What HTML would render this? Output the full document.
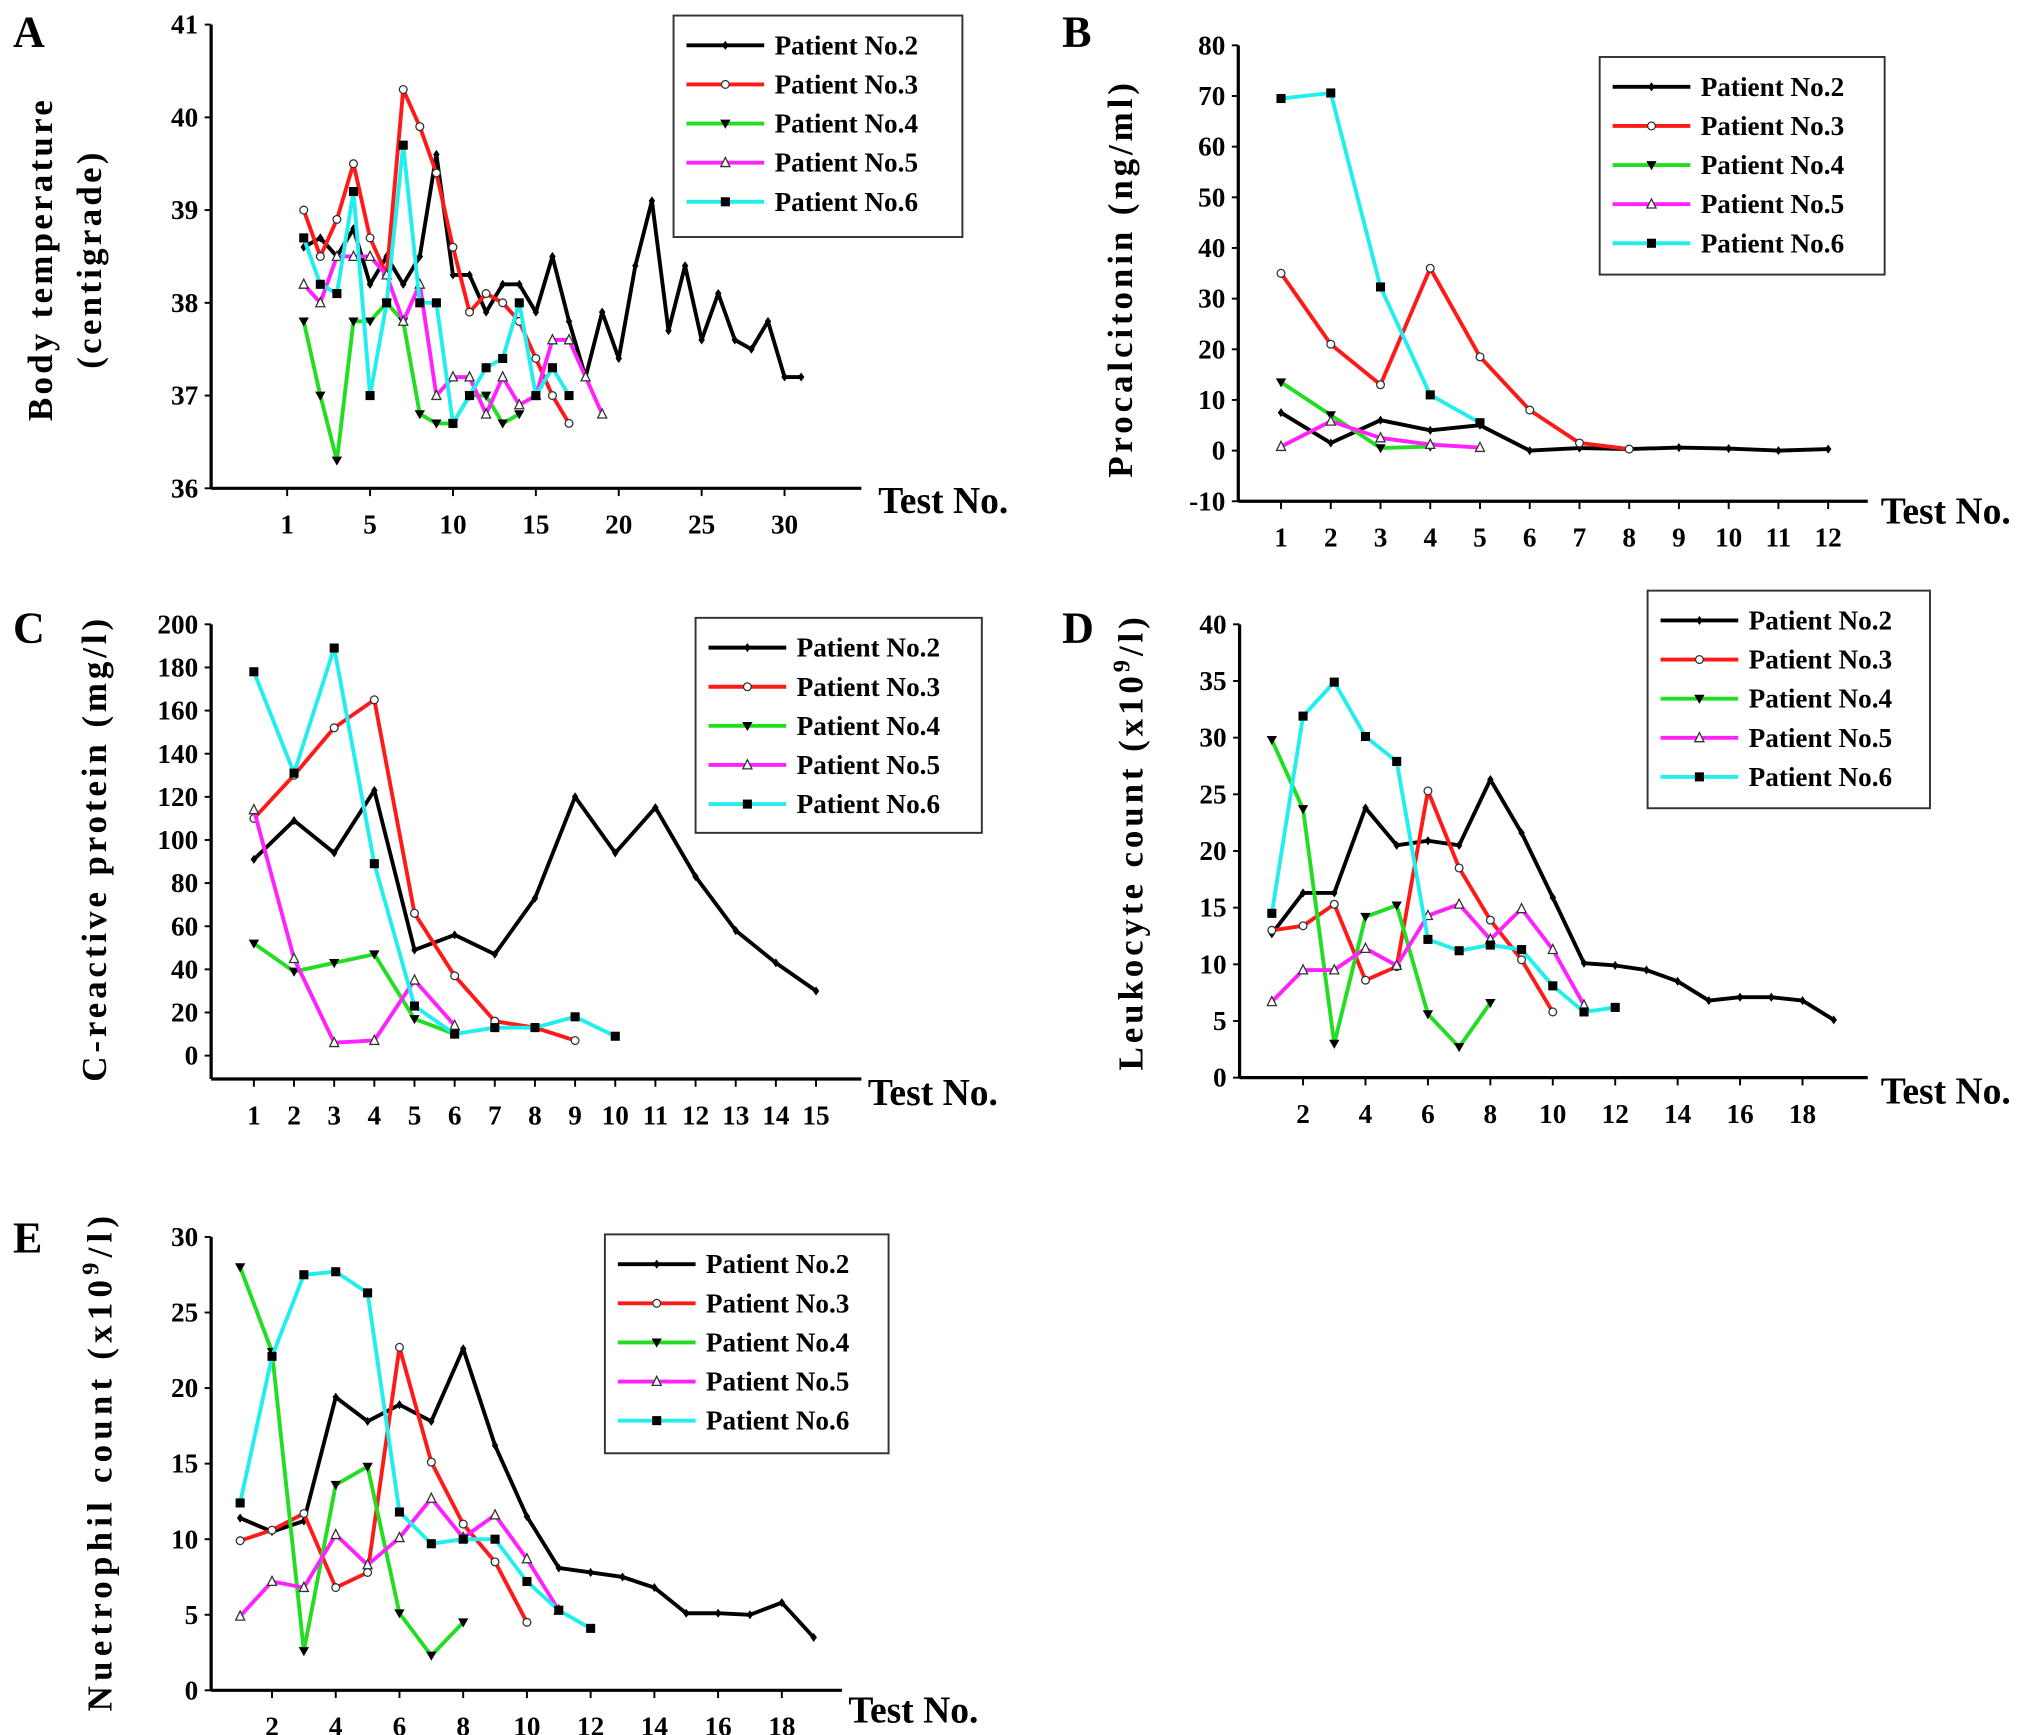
<!DOCTYPE html>
<html><head><meta charset="utf-8"><style>
html,body{margin:0;padding:0;background:#fff;}
svg{display:block;}
text{font-family:"Liberation Serif",serif;font-weight:bold;fill:#000;}
</style></head><body>
<svg id="fig" width="2031" height="1735" viewBox="0 0 1568 1339.5" preserveAspectRatio="none" xmlns="http://www.w3.org/2000/svg"></svg>
<script>
// ---- Data ----
const seriesNames = ["Patient No.2","Patient No.3","Patient No.4","Patient No.5","Patient No.6"];
const tempP2 = [38.6,38.7,38.5,38.8,38.2,38.5,38.2,38.5,39.6,38.3,38.3,37.9,38.2,38.2,37.9,38.5,37.8,37.2,37.9,37.4,38.4,39.1,37.7,38.4,37.6,38.1,37.6,37.5,37.8,37.2,37.2];
const tempP3 = [39.0,38.5,38.9,39.5,38.7,38.3,40.3,39.9,39.4,38.6,37.9,38.1,38.0,37.8,37.4,37.0,36.7];
const tempP4 = [37.8,37.0,36.3,37.8,37.8,38.0,37.8,36.8,36.7,36.7,37.0,37.0,36.7,36.8];
const tempP5 = [38.2,38.0,38.5,38.5,38.5,38.3,37.8,38.2,37.0,37.2,37.2,36.8,37.2,36.9,37.0,37.6,37.6,37.2,36.8];
const tempP6 = [38.7,38.2,38.1,39.2,37.0,38.0,39.7,38.0,38.0,36.7,37.0,37.3,37.4,38.0,37.0,37.3,37.0];
const tempXTicks = ["1","5","10","15","20","25","30"];
const tempYTicks = [36,37,38,39,40,41];

const pctP2 = [7.5,1.5,6,4,5,0,0.5,0.3,0.6,0.4,0,0.3];
const pctP3 = [35,21,13,36,18.5,8,1.5,0.3];
const pctP4 = [13.5,7,0.5,0.8];
const pctP5 = [0.8,5.8,2.5,1.2,0.6];
const pctP6 = [69.5,70.6,32.3,11,5.5];
const pctXTicks = ["1","2","3","4","5","6","7","8","9","10","11","12"];
const pctYTicks = [-10,0,10,20,30,40,50,60,70,80];

const crpP2 = [91,109,94,123,49,56,47,73,120,94,115,83,58,43,30];
const crpP3 = [110,130,152,165,66,37,16,13,7];
const crpP4 = [52,39,43,47,17,10];
const crpP5 = [114,45,6,7,35,14];
const crpP6 = [178,131,189,89,23,10,13,13,18,9];
const crpXTicks = ["1","2","3","4","5","6","7","8","9","10","11","12","13","14","15"];
const crpYTicks = [0,20,40,60,80,100,120,140,160,180,200];

const wbcP2 = [12.7,16.3,16.3,23.8,20.5,20.9,20.5,26.3,21.6,15.9,10.1,9.9,9.5,8.5,6.8,7.1,7.1,6.8,5.1];
const wbcP3 = [13.0,13.4,15.3,8.6,9.8,25.3,18.5,13.9,10.4,5.8];
const wbcP4 = [29.8,23.7,3.0,14.2,15.2,5.6,2.7,6.6];
const wbcP5 = [6.7,9.5,9.5,11.4,9.9,14.3,15.3,12.2,14.9,11.3,6.4];
const wbcP6 = [14.5,31.9,34.9,30.1,27.9,12.2,11.2,11.7,11.3,8.1,5.8,6.2];
const wbcXTicks = ["2","4","6","8","10","12","14","16","18"];
const wbcYTicks = [0,5,10,15,20,25,30,35,40];

const neuP2 = [11.4,10.5,11.2,19.4,17.8,18.9,17.8,22.6,16.2,11.5,8.1,7.8,7.5,6.8,5.1,5.1,5.0,5.8,3.5];
const neuP3 = [9.9,10.6,11.7,6.8,7.8,22.7,15.1,11.0,8.5,4.5];
const neuP4 = [28,22.4,2.6,13.6,14.8,5.1,2.3,4.5];
const neuP5 = [4.9,7.2,6.8,10.3,8.3,10.1,12.7,10.1,11.6,8.7,5.3];
const neuP6 = [12.4,22.1,27.5,27.7,26.3,11.8,9.7,10.0,10.0,7.2,5.3,4.1];
const neuXTicks = ["2","4","6","8","10","12","14","16","18"];
const neuYTicks = [0,5,10,15,20,25,30];

const colors = ["#000000","#ff1a1a","#22dd22","#ff22ff","#22eeee"];
const markers = ["diamond","circle","tridown","triup","square"];

const NS = "http://www.w3.org/2000/svg";
const svg = document.getElementById("fig");
function mk(tag, attrs, parent){
  const e = document.createElementNS(NS, tag);
  for (const k in attrs) e.setAttribute(k, attrs[k]);
  (parent||svg).appendChild(e);
  return e;
}
function txt(s, x, y, size, anchor, parent){
  const t = mk("text", {x:x, y:y, "font-size":size, "text-anchor":anchor||"start"}, parent);
  t.textContent = s;
  return t;
}
function marker(type, x, y, g){
  let e;
  if (type==="diamond") e = mk("path",{d:`M${x} ${y-3.5}L${x+2.5} ${y}L${x} ${y+3.5}L${x-2.5} ${y}Z`,fill:"#000"},g);
  else if (type==="circle") e = mk("circle",{cx:x,cy:y,r:3,fill:"#fff",stroke:"#333","stroke-width":1},g);
  else if (type==="tridown") e = mk("path",{d:`M${x-4} ${y-3}L${x+4} ${y-3}L${x} ${y+4}Z`,fill:"#000"},g);
  else if (type==="triup") e = mk("path",{d:`M${x-3.5} ${y+3}L${x+3.5} ${y+3}L${x} ${y-4}Z`,fill:"#fff",stroke:"#333","stroke-width":1},g);
  else e = mk("rect",{x:x-3.5,y:y-3.5,width:7,height:7,fill:"#000"},g);
  
  
  return e;
}

function panel(cfg){
  const g = mk("g", {});
  
  
  const xs = n => cfg.x0 + cfg.dx * n;
  const ys = v => cfg.yTop + (cfg.ymax - v) / (cfg.ymax - cfg.ymin) * (cfg.yBot - cfg.yTop);
  const L = txt(cfg.letter, cfg.letterX, cfg.letterY, 34, "start", g);
  
  
  const ya = mk("line",{x1:cfg.axX,y1:cfg.axTop,x2:cfg.axX,y2:cfg.axY,stroke:"#000","stroke-width":2.5},g);
  
  
  const xa = mk("line",{x1:cfg.axX,y1:cfg.axY,x2:cfg.axRight,y2:cfg.axY,stroke:"#000","stroke-width":2.5},g);
  
  
  cfg.yTicks.forEach(v => {
    const y = ys(v);
    mk("line",{x1:cfg.axX-5,y1:y,x2:cfg.axX,y2:y,stroke:"#000","stroke-width":1.5},g);
    const t = txt(String(v), cfg.axX-10, y+7, 21, "end", g);
    
    
  });
  cfg.xTicks.forEach((s, i) => {
    const x = xs(cfg.xTickPos(i, s));
    mk("line",{x1:x,y1:cfg.axY,x2:x,y2:cfg.axY+6,stroke:"#000","stroke-width":1.5},g);
    const t = txt(s, x, cfg.axY+35, 21, "middle", g);
    
    
  });
  const xt = txt("Test No.", cfg.xtX, cfg.xtY, 29, "start", g);
  
  
  cfg.yTitle.forEach((s, i) => {
    const yx = cfg.ytX + i*38;
    const t = txt(s, 0, 0, 27, "middle", g);
    t.setAttribute("transform", `translate(${yx},${cfg.ytY}) rotate(-90)`);
    t.setAttribute("letter-spacing", cfg.ls || "3");
    
    
    if (cfg.sup && i===cfg.yTitle.length-1) {
      t.textContent = "";
      const a = mk("tspan",{},t); a.textContent = cfg.sup[0];
      const b = mk("tspan",{dy:-10,"font-size":19},t); b.textContent = cfg.sup[1];
      const c = mk("tspan",{dy:10},t); c.textContent = cfg.sup[2];
    }
  });
  cfg.series.forEach((arr, si) => {
    const sg = mk("g",{},g);
    
    
    const pts = arr.map((v, i) => `${xs(i+1).toFixed(1)},${ys(v).toFixed(1)}`).join(" ");
    const pl = mk("polyline",{points:pts,fill:"none",stroke:colors[si],"stroke-width":3,"stroke-linejoin":"round"},sg);
    
    
    arr.forEach((v, i) => marker(markers[si], xs(i+1), ys(v), sg));
  });
  const lg = mk("g",{},g);
  
  
  mk("rect",{x:cfg.lgX,y:cfg.lgY,width:cfg.lgW,height:cfg.lgH,fill:"#fff",stroke:"#333","stroke-width":1.5},lg);
  seriesNames.forEach((n, i) => {
    const eg = mk("g",{},lg);
    
    
    const y = cfg.lgY + 23 + i*30.2;
    mk("line",{x1:cfg.lgX+10,y1:y,x2:cfg.lgX+70,y2:y,stroke:colors[i],"stroke-width":3},eg);
    marker(markers[i], cfg.lgX+40, y, eg);
    txt(n, cfg.lgX+78, y+7, 21, "start", eg);
  });
}

panel({name:"panel-a-body-temperature", letter:"A", letterX:10, letterY:36,
  axX:163, axY:377, axTop:19, axRight:665, yTop:19, yBot:377, ymin:36, ymax:41,
  x0:221.7, dx:12.8, xTicks:tempXTicks, xTickPos:(i,s)=>i*5,
  yTicks:tempYTicks, xtX:678, xtY:396, yTitle:["Body temperature","(centigrade)"], ytX:40, ytY:200, ls:"2.5",
  series:[tempP2,tempP3,tempP4,tempP5,tempP6], lgX:520, lgY:12, lgW:223, lgH:171});

panel({name:"panel-b-procalcitonin", letter:"B", letterX:820, letterY:36,
  axX:956, axY:387, axTop:35, axRight:1442, yTop:35, yBot:387, ymin:-10, ymax:80,
  x0:950.6, dx:38.4, xTicks:pctXTicks, xTickPos:(i,s)=>+s,
  yTicks:pctYTicks, xtX:1452, xtY:404, yTitle:["Procalcitonin (ng/ml)"], ytX:874, ytY:215,
  series:[pctP2,pctP3,pctP4,pctP5,pctP6], lgX:1235, lgY:44, lgW:220, lgH:168});

panel({name:"panel-c-c-reactive-protein", letter:"C", letterX:10, letterY:496,
  axX:163, axY:833, axTop:482, axRight:665, yTop:482, yBot:815, ymin:0, ymax:200,
  x0:165, dx:31, xTicks:crpXTicks, xTickPos:(i,s)=>+s,
  yTicks:crpYTicks, xtX:670, xtY:853, yTitle:["C-reactive protein (mg/l)"], ytX:82, ytY:655,
  series:[crpP2,crpP3,crpP4,crpP5,crpP6], lgX:537, lgY:477, lgW:221, lgH:166});

panel({name:"panel-d-leukocyte-count", letter:"D", letterX:820, letterY:496,
  axX:957, axY:832, axTop:482, axRight:1442, yTop:482, yBot:832, ymin:0, ymax:40,
  x0:957.8, dx:24.1, xTicks:wbcXTicks, xTickPos:(i,s)=>+s,
  yTicks:wbcYTicks, xtX:1452, xtY:852, yTitle:["Leukocyte count (x10"], sup:["Leukocyte count (x10","9","/l)"], ytX:882, ytY:650,
  series:[wbcP2,wbcP3,wbcP4,wbcP5,wbcP6], lgX:1272, lgY:456, lgW:218, lgH:168});

panel({name:"panel-e-neutrophil-count", letter:"E", letterX:10, letterY:967,
  axX:163, axY:1305, axTop:955, axRight:650, yTop:955, yBot:1305, ymin:0, ymax:30,
  x0:160.8, dx:24.6, xTicks:neuXTicks, xTickPos:(i,s)=>+s,
  yTicks:neuYTicks, xtX:655, xtY:1330, yTitle:["Nuetrophil count (x10"], sup:["Nuetrophil  count  (x10","9","/l)"], ytX:86, ytY:1128, ls:"4",
  series:[neuP2,neuP3,neuP4,neuP5,neuP6], lgX:467, lgY:953, lgW:219, lgH:169});
</script>
</body></html>
